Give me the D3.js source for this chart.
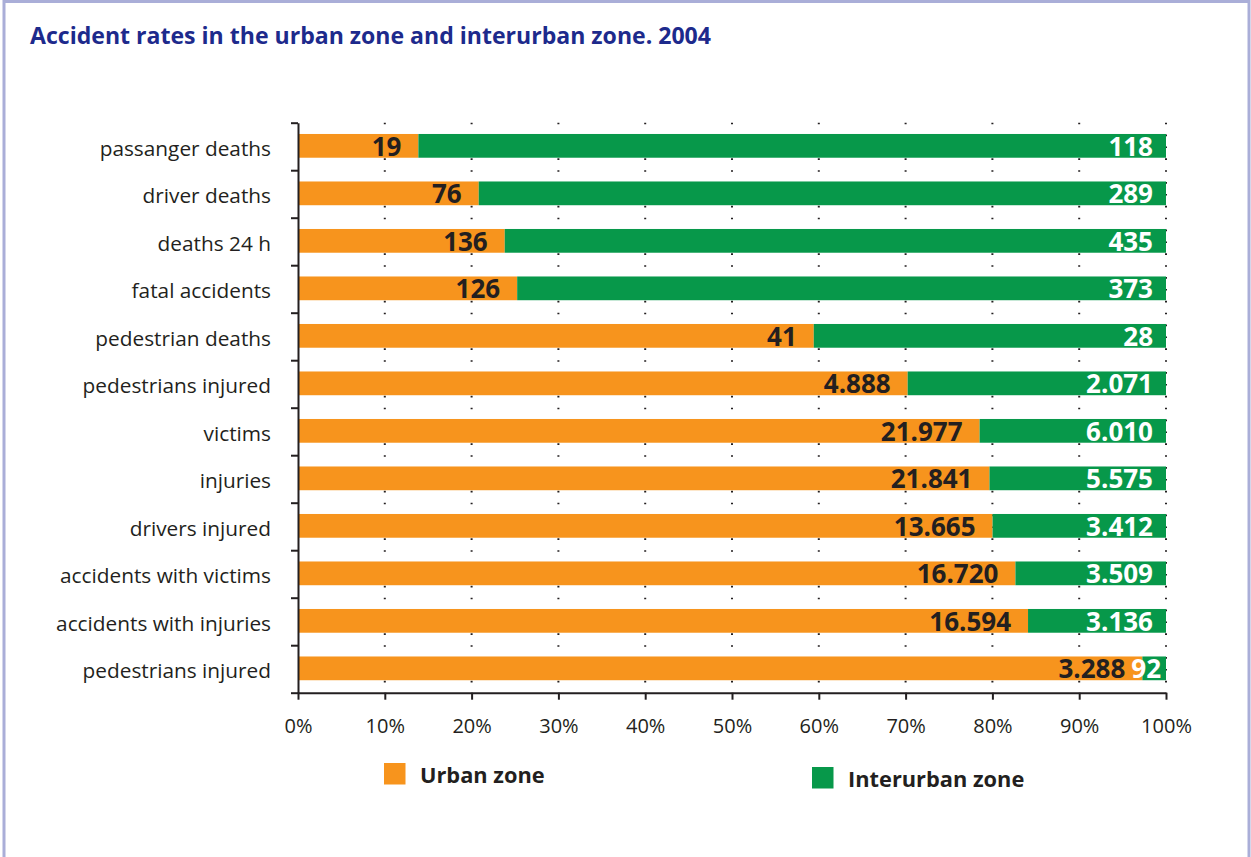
<!DOCTYPE html>
<html>
<head>
<meta charset="utf-8">
<script src="https://cdn.jsdelivr.net/npm/d3@7"></script>
<style>
  html, body { margin: 0; padding: 0; background: #fff; }
  svg { display: block; }
  text { font-family: "Open Sans", "DejaVu Sans", sans-serif; }
</style>
</head>
<body>
<svg id="chart" width="1251" height="857"></svg>
<script>
// Accident figures, 2004: urban vs interurban zone
const categories = [
  "passanger deaths", "driver deaths", "deaths 24 h", "fatal accidents",
  "pedestrian deaths", "pedestrians injured", "victims", "injuries",
  "drivers injured", "accidents with victims", "accidents with injuries",
  "pedestrians injured"
];
const urban      = [19, 76, 136, 126, 41, 4888, 21977, 21841, 13665, 16720, 16594, 3288];
const interurban = [118, 289, 435, 373, 28, 2071, 6010, 5575, 3412, 3509, 3136, 92];
const tickValues = [0, 0.1, 0.2, 0.3, 0.4, 0.5, 0.6, 0.7, 0.8, 0.9, 1];
const seriesNames = ["Urban zone", "Interurban zone"];

const colors = { urban: "#F7941D", inter: "#07984A", ink: "#231f20", title: "#1d2a8c", frame: "#aaaed8" };

const svg = d3.select("#chart");

// Frame
svg.append("rect")
  .attr("x", 4).attr("y", 1.5).attr("width", 1245).attr("height", 870)
  .attr("fill", "none").attr("stroke", colors.frame).attr("stroke-width", 3);

// Title
svg.append("text")
  .attr("x", 30).attr("y", 44)
  .attr("fill", colors.title)
  .attr("font-size", 23).attr("font-weight", 700)
  .attr("textLength", 681).attr("lengthAdjust", "spacingAndGlyphs")
  .text("Accident rates in the urban zone and interurban zone. 2004");

const margin = { left: 298, right: 1166, top: 122.7, bottom: 692.7 };

const x = d3.scaleLinear().domain([0, 1]).range([margin.left, margin.right]);
const y = d3.scaleBand().domain(d3.range(categories.length)).range([margin.top, margin.bottom]).padding(0);
const barH = y.bandwidth() * 0.5;
const barY = i => y(i) + (y.bandwidth() - barH) / 2 - 0.6;

const fmt = d3.formatLocale({ decimal: ",", thousands: ".", grouping: [3], currency: ["", ""] }).format(",d");

// Dotted vertical gridlines
const gridStep = y.bandwidth() / 4;
svg.append("g")
  .selectAll("line")
  .data(tickValues.slice(1))
  .join("line")
  .attr("x1", d => x(d)).attr("x2", d => x(d))
  .attr("y1", margin.top).attr("y2", margin.bottom)
  .attr("stroke", colors.ink).attr("stroke-width", 2)
  .attr("stroke-dasharray", `1.6 ${gridStep - 1.6}`);

// Stacked 100% bars
const rows = categories.map((c, i) => {
  const total = urban[i] + interurban[i];
  return { i, c, u: urban[i], v: interurban[i], share: urban[i] / total };
});

const bars = svg.append("g");
bars.selectAll("rect.urban")
  .data(rows).join("rect")
  .attr("class", "urban")
  .attr("x", x(0)).attr("y", d => barY(d.i))
  .attr("width", d => x(d.share) - x(0)).attr("height", barH)
  .attr("fill", colors.urban);
bars.selectAll("rect.inter")
  .data(rows).join("rect")
  .attr("class", "inter")
  .attr("x", d => x(d.share)).attr("y", d => barY(d.i))
  .attr("width", d => x(1) - x(d.share)).attr("height", barH)
  .attr("fill", colors.inter);

// Value labels
const labels = svg.append("g").attr("font-size", 26).attr("font-weight", 700).attr("text-anchor", "end");
labels.selectAll("text.u")
  .data(rows).join("text")
  .attr("class", "u")
  .attr("x", d => x(d.share) - 17)
  .attr("y", d => barY(d.i) + barH / 2 + 9.8)
  .attr("fill", colors.ink)
  .text(d => fmt(d.u));
labels.selectAll("text.v")
  .data(rows).join("text")
  .attr("class", "v")
  .attr("x", x(1) - 5)
  .attr("dx", d => (x(1) - x(d.share)) > 40 ? -8 : 0)
  .attr("y", d => barY(d.i) + barH / 2 + 9.8)
  .attr("fill", "#fff")
  .text(d => fmt(d.v));

// Left axis: ticks on category boundaries
const yEdges = d3.scaleLinear().domain([0, categories.length]).range([margin.top, margin.bottom]);
const leftAxis = svg.append("g")
  .attr("transform", `translate(${margin.left},0)`)
  .call(d3.axisLeft(yEdges).tickValues(d3.range(categories.length + 1)).tickSize(7).tickSizeOuter(0).tickFormat(""));
leftAxis.select(".domain").attr("stroke", colors.ink).attr("stroke-width", 2);
leftAxis.selectAll(".tick line").attr("stroke", colors.ink).attr("stroke-width", 2);

// Category labels
svg.append("g")
  .attr("font-size", 20.8).attr("fill", colors.ink).attr("text-anchor", "end")
  .selectAll("text")
  .data(rows).join("text")
  .attr("x", margin.left - 27)
  .attr("y", d => y(d.i) + y.bandwidth() / 2 + 9.5)
  .text(d => d.c);

// Bottom axis
const bottomAxis = svg.append("g")
  .attr("transform", `translate(0,${margin.bottom})`)
  .call(d3.axisBottom(x).tickValues(tickValues).tickFormat(d3.format(".0%")).tickSize(7).tickSizeOuter(0).tickPadding(19));
bottomAxis.select(".domain").attr("stroke", colors.ink).attr("stroke-width", 2);
bottomAxis.selectAll(".tick line").attr("stroke", colors.ink).attr("stroke-width", 2);
bottomAxis.selectAll(".tick text")
  .attr("font-size", 20).attr("fill", colors.ink)
  .attr("font-family", "\"Open Sans\", \"DejaVu Sans\", sans-serif");

// Legend
const legendItems = [
  { name: seriesNames[0], color: colors.urban, x: 384, y: 763, tx: 420, ty: 783 },
  { name: seriesNames[1], color: colors.inter, x: 812, y: 767, tx: 848, ty: 787 }
];
const legend = svg.append("g");
legend.selectAll("rect")
  .data(legendItems).join("rect")
  .attr("x", d => d.x).attr("y", d => d.y)
  .attr("width", 21.5).attr("height", 21.5)
  .attr("fill", d => d.color);
legend.selectAll("text")
  .data(legendItems).join("text")
  .attr("x", d => d.tx).attr("y", d => d.ty)
  .attr("font-size", 21.8).attr("font-weight", 700).attr("fill", colors.ink)
  .text(d => d.name);
</script>
</body>
</html>
